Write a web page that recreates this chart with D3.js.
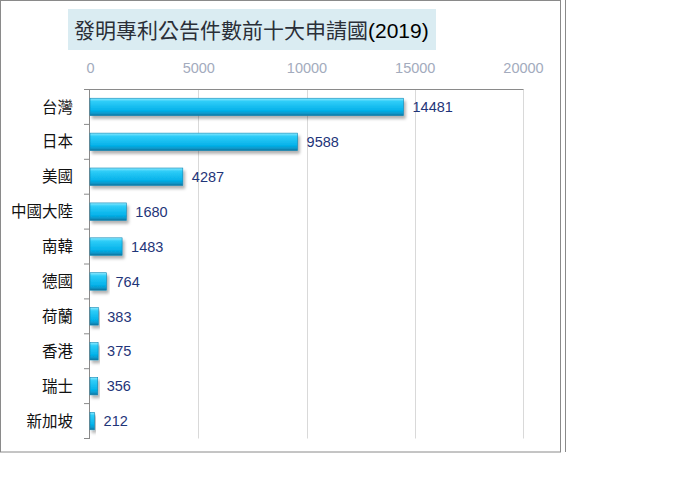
<!DOCTYPE html>
<html>
<head>
<meta charset="utf-8">
<script src="https://cdn.jsdelivr.net/npm/d3@7"></script>
<style>
  body { margin: 0; background: #fff; }
  svg { display: block; }
</style>
</head>
<body>
<div id="chart"></div>
<script>
// data
const countries = ["台灣", "日本", "美國", "中國大陸", "南韓", "德國", "荷蘭", "香港", "瑞士", "新加坡"];
const counts = [14481, 9588, 4287, 1680, 1483, 764, 383, 375, 356, 212];
const xTicks = [0, 5000, 10000, 15000, 20000];
const title = "發明專利公告件數前十大申請國";
const titleYear = "(2019)";

const width = 673;
const height = 499;
const plot = {left: 90, right: 523, top: 89.5, bottom: 438.5};

const svg = d3.select("#chart")
  .append("svg")
  .attr("width", width)
  .attr("height", height);

/* gradient + shadow for the 3d-ish bars */
const defs = svg.append("defs");
const grad = defs.append("linearGradient")
  .attr("id", "barGrad")
  .attr("x1", 0).attr("y1", 0).attr("x2", 0).attr("y2", 1);
grad.append("stop").attr("offset", "0%").attr("stop-color", "#8eeaff");
grad.append("stop").attr("offset", "18%").attr("stop-color", "#2fcdf8");
grad.append("stop").attr("offset", "70%").attr("stop-color", "#05b2ea");
grad.append("stop").attr("offset", "88%").attr("stop-color", "#0896c8");
grad.append("stop").attr("offset", "100%").attr("stop-color", "#0a6f98");

const shadow = defs.append("filter").attr("id", "shadow")
  .attr("x", "-10%").attr("y", "-30%").attr("width", "130%").attr("height", "190%");
shadow.append("feDropShadow")
  .attr("dx", 2).attr("dy", 3).attr("stdDeviation", 1.4)
  .attr("flood-color", "#000").attr("flood-opacity", 0.3);

/* outer frame */
svg.append("rect")
  .attr("x", 0.5).attr("y", 0.5)
  .attr("width", 560).attr("height", 451.5)
  .attr("fill", "none")
  .attr("stroke", "#8a8a8a");
svg.append("line")
  .attr("x1", 565.5).attr("x2", 565.5)
  .attr("y1", 0).attr("y2", 452)
  .attr("stroke", "#8a8a8a");

/* title */
svg.append("rect")
  .attr("x", 68).attr("y", 9)
  .attr("width", 368).attr("height", 41)
  .attr("fill", "#daecf2");
const t = svg.append("text")
  .attr("x", 74).attr("y", 38)
  .attr("font-size", "21px")
  .attr("fill", "#2a2f38");
t.append("tspan")
  .attr("font-family", "'Noto Sans CJK TC', sans-serif")
  .text(title);
t.append("tspan")
  .attr("font-family", "'Liberation Sans', Arial, sans-serif")
  .attr("fill", "#000")
  .text(titleYear);

/* scales */
const xScale = d3.scaleLinear()
  .domain([0, 20000])
  .range([plot.left, plot.right]);

const yScale = d3.scaleBand()
  .domain(countries)
  .range([plot.top, plot.bottom])
  .paddingInner(0.5)
  .paddingOuter(0.25);

/* gridlines */
svg.append("g")
  .selectAll("line")
  .data(xTicks.slice(1))
  .enter()
  .append("line")
  .attr("x1", d => Math.round(xScale(d)) + 0.5)
  .attr("x2", d => Math.round(xScale(d)) + 0.5)
  .attr("y1", plot.top)
  .attr("y2", plot.bottom)
  .attr("stroke", "#d9d9d9");

/* top plot border */
svg.append("line")
  .attr("x1", 84).attr("x2", plot.right + 0.5)
  .attr("y1", plot.top).attr("y2", plot.top)
  .attr("stroke", "#8a8a8a");

/* x axis labels on top */
const xAxis = d3.axisTop(xScale)
  .tickValues(xTicks)
  .tickSize(0)
  .tickPadding(0)
  .tickFormat(d3.format("d"));

const gx = svg.append("g")
  .attr("transform", "translate(0,73)")
  .call(xAxis);
gx.select(".domain").remove();
gx.selectAll("text")
  .attr("font-family", "'Liberation Sans', Arial, sans-serif")
  .attr("font-size", "14.5px")
  .attr("fill", "#a3abbd");

/* y axis with ticks at band edges */
svg.append("line")
  .attr("x1", plot.left - 0.5).attr("x2", plot.left - 0.5)
  .attr("y1", plot.top).attr("y2", plot.bottom)
  .attr("stroke", "#8a8a8a");

const step = yScale.step();
svg.append("g")
  .selectAll("line")
  .data(countries)
  .enter()
  .append("line")
  .attr("x1", 84)
  .attr("x2", plot.left)
  .attr("y1", (d, i) => plot.top + step * (i + 1))
  .attr("y2", (d, i) => plot.top + step * (i + 1))
  .attr("stroke", "#8a8a8a");

svg.append("g")
  .selectAll("text")
  .data(countries)
  .enter()
  .append("text")
  .attr("x", 73)
  .attr("y", d => yScale(d) + yScale.bandwidth() / 2)
  .attr("dy", "0.36em")
  .attr("text-anchor", "end")
  .attr("font-family", "'Noto Sans CJK TC', sans-serif")
  .attr("font-size", "15.5px")
  .attr("fill", "#111")
  .text(d => d);

/* bars */
const rows = countries.map((c, i) => ({name: c, value: counts[i]}));

svg.append("g")
  .selectAll("rect")
  .data(rows)
  .enter()
  .append("rect")
  .attr("x", plot.left)
  .attr("y", d => yScale(d.name))
  .attr("width", d => xScale(d.value) - plot.left)
  .attr("height", yScale.bandwidth())
  .attr("fill", "url(#barGrad)")
  .attr("stroke", "#0a86b5")
  .attr("stroke-width", 0.6)
  .attr("filter", "url(#shadow)");

/* value labels */
svg.append("g")
  .selectAll("text")
  .data(rows)
  .enter()
  .append("text")
  .attr("x", d => xScale(d.value) + 9)
  .attr("y", d => yScale(d.name) + yScale.bandwidth() / 2)
  .attr("dy", "0.36em")
  .attr("font-family", "'Liberation Sans', Arial, sans-serif")
  .attr("font-size", "14.5px")
  .attr("fill", "#1f3579")
  .text(d => d.value);
</script>
</body>
</html>
